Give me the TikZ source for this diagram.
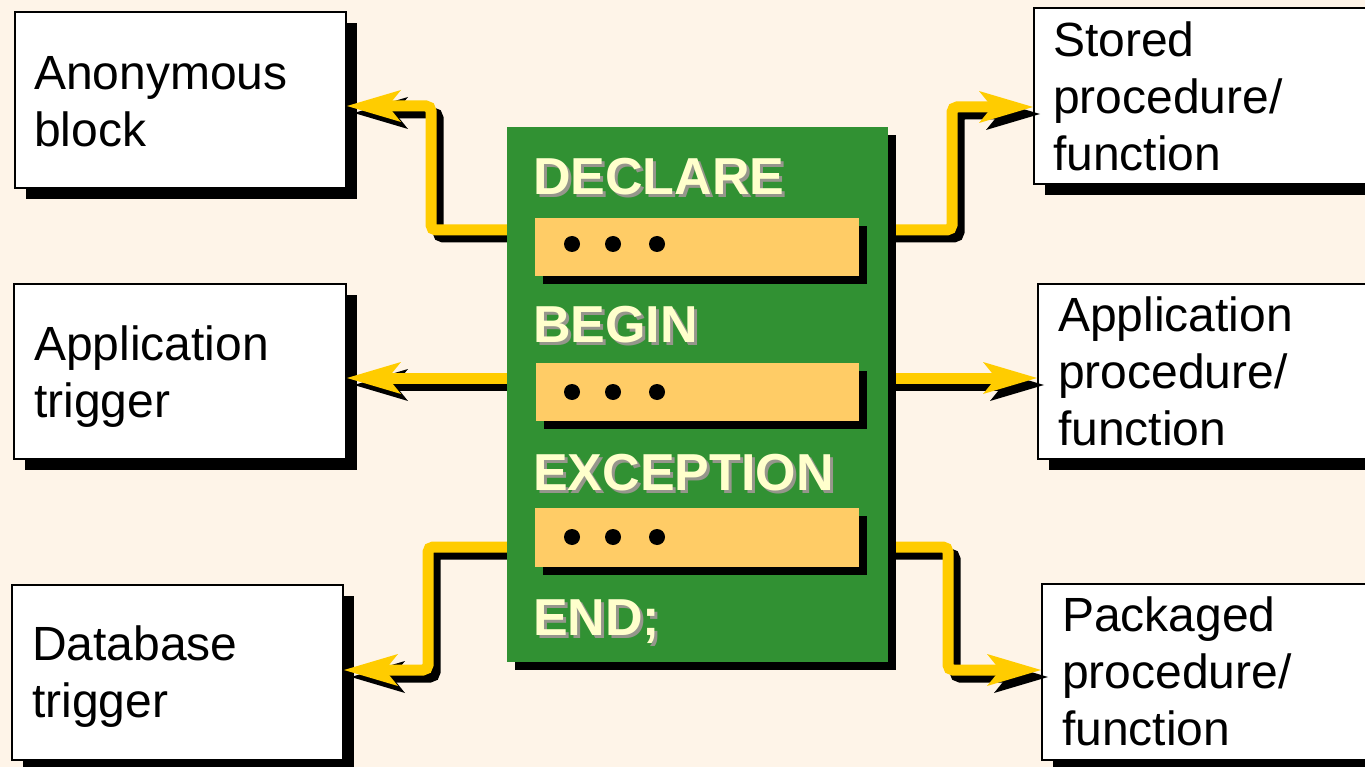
\documentclass[tikz,border=0pt]{standalone}
\usepackage{fontspec}
\setmainfont{Liberation Sans}
\usetikzlibrary{arrows.meta,shadows}

\definecolor{paper}{RGB}{254,244,232}
\definecolor{leaf}{RGB}{49,145,51}
\definecolor{amber}{RGB}{255,204,0}
\definecolor{slot}{RGB}{255,204,102}
\definecolor{chalk}{RGB}{255,255,204}
\definecolor{chalkshade}{RGB}{150,150,140}

\tikzset{
  tbox/.style={draw=black, line width=2pt, fill=white, anchor=north west,
    inner sep=0pt,
    drop shadow={shadow xshift=11pt, shadow yshift=-11pt, fill=black, opacity=1}},
  lbl/.style={anchor=base west, align=left, inner sep=0pt,
    font=\fontsize{48pt}{57pt}\selectfont},
  codeblock/.style={fill=leaf, anchor=north west, inner sep=0pt,
    drop shadow={shadow xshift=8pt, shadow yshift=-8pt, fill=black, opacity=1}},
  slotbox/.style={fill=slot, anchor=north west, inner sep=0pt,
    drop shadow={shadow xshift=8pt, shadow yshift=-8pt, fill=black, opacity=1}},
  kw/.style={anchor=base west, inner sep=0pt, text=chalk,
    font=\fontsize{52pt}{60pt}\selectfont\bfseries},
  link/.style={color=amber, line width=11pt, rounded corners=5pt,
    -{Stealth[length=54pt, width=32pt, inset=13pt, line width=0pt]}},
  linkshade/.style={link, color=black, transform canvas={xshift=7pt, yshift=-7pt}},
}

% keyword set in cream over a soft grey copy of itself
\newcommand\keyword[4]{%
  \node[kw] (#1) at (#2,#3)
    {\makebox[0pt][l]{\hspace{3pt}\raisebox{-3pt}{\textcolor{chalkshade}{#4}}}#4};}
% connector drawn over its black shadow
\newcommand\linkto[1]{%
  \draw[linkshade] #1;
  \draw[link] #1;}

\begin{document}
\begin{tikzpicture}[x=1pt, y=-1pt]
  \clip (0,0) rectangle (1365,767);
  \fill[paper] (0,0) rectangle (1365,767);

  % outer boxes
  \node[tbox, minimum width=331pt, minimum height=176pt] (anon)    at (14,11)  {};
  \node[tbox, minimum width=332pt, minimum height=175pt] (apptrig) at (13,283) {};
  \node[tbox, minimum width=331pt, minimum height=175pt] (dbtrig)  at (11,584) {};
  \node[tbox, minimum width=340pt, minimum height=176pt] (stored)  at (1033,7)   {};
  \node[tbox, minimum width=340pt, minimum height=175pt] (appproc) at (1037,283) {};
  \node[tbox, minimum width=340pt, minimum height=176pt] (pkg)     at (1041,583) {};

  \node[lbl] (anonT)    at (34,147)   {Anonymous\\block};
  \node[lbl] (apptrigT) at (34,417)   {Application\\trigger};
  \node[lbl] (dbtrigT)  at (32,717)   {Database\\trigger};
  \node[lbl] (storedT)  at (1053,171) {Stored\\procedure/\\function};
  \node[lbl] (appprocT) at (1058,445) {Application\\procedure/\\function};
  \node[lbl] (pkgT)     at (1062,745) {Packaged\\procedure/\\function};

  % corners and sides of the PL/SQL block
  \coordinate (blkNW) at (507,127);
  \coordinate (blkW) at (507,394);
  \coordinate (blkE) at (888,394);

  % connectors
  \linkto{(blkW |- 0,230) -| (431,106) -- (anon.east |- 0,106)}
  \linkto{(blkW |- 0,378) -- (apptrig.east |- 0,378)}
  \linkto{(blkW |- 0,547) -| (428,670) -- (dbtrig.east |- 0,670)}
  \linkto{(blkE |- 0,230) -| (952,107) -- (stored.west |- 0,107)}
  \linkto{(blkE |- 0,378) -- (appproc.west |- 0,378)}
  \linkto{(blkE |- 0,547) -| (948,670) -- (pkg.west |- 0,670)}

  % the block itself
  \node[codeblock, minimum width=381pt, minimum height=535pt] (blk) at (blkNW) {};

  \node[slotbox, minimum width=324pt, minimum height=58pt] (decl) at (535,218) {};
  \node[slotbox, minimum width=323pt, minimum height=58pt] (body) at (536,363) {};
  \node[slotbox, minimum width=324pt, minimum height=59pt] (exc)  at (535,508) {};

  \foreach \y in {244,392,537}{
    \fill (572,\y) circle (8pt) (613,\y) circle (8pt) (657,\y) circle (8pt);
  }

  \keyword{kDecl}{533}{195}{DECLARE}
  \keyword{kBegin}{533}{342}{BEGIN}
  \keyword{kExc}{533}{490}{EXCEPTION}
  \keyword{kEnd}{533}{635}{END;}
\end{tikzpicture}
\end{document}
